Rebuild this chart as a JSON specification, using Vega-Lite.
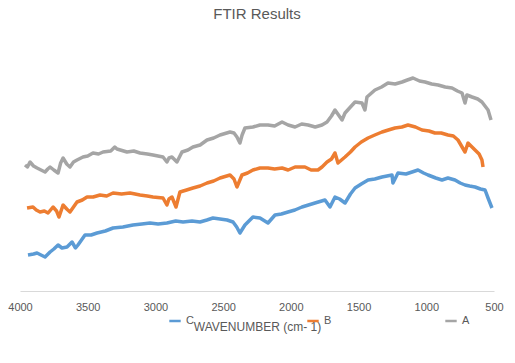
{
  "$schema": "https://vega.github.io/schema/vega-lite/v6.json",
  "autosize": {"type": "none"},
  "width": 474,
  "height": 251,
  "padding": {"left": 20, "top": 40, "right": 21, "bottom": 72},
  "background": "white",
  "config": {"view": {"stroke": null}, "font": "Liberation Sans"},
  "title": {"text": "FTIR Results", "fontSize": 15, "fontWeight": "normal", "color": "#595959", "offset": 18, "font": "Liberation Sans"},
  "data": {"values": [
    {"s":"A","wn":3963,"v":126},{"s":"A","wn":3945,"v":124},{"s":"A","wn":3926,"v":129},{"s":"A","wn":3900,"v":125},{"s":"A","wn":3874,"v":123},{"s":"A","wn":3845,"v":121},{"s":"A","wn":3815,"v":119},{"s":"A","wn":3795,"v":122},{"s":"A","wn":3778,"v":124},{"s":"A","wn":3750,"v":121},{"s":"A","wn":3719,"v":118},{"s":"A","wn":3700,"v":128},{"s":"A","wn":3682,"v":133},{"s":"A","wn":3655,"v":127},{"s":"A","wn":3631,"v":124},{"s":"A","wn":3605,"v":129},{"s":"A","wn":3579,"v":131},{"s":"A","wn":3535,"v":134},{"s":"A","wn":3500,"v":135},{"s":"A","wn":3461,"v":138},{"s":"A","wn":3420,"v":137},{"s":"A","wn":3387,"v":139},{"s":"A","wn":3330,"v":140},{"s":"A","wn":3300,"v":144},{"s":"A","wn":3284,"v":142},{"s":"A","wn":3210,"v":139},{"s":"A","wn":3160,"v":140},{"s":"A","wn":3114,"v":138},{"s":"A","wn":3060,"v":137},{"s":"A","wn":3018,"v":136},{"s":"A","wn":2944,"v":134},{"s":"A","wn":2915,"v":129},{"s":"A","wn":2900,"v":133},{"s":"A","wn":2878,"v":134},{"s":"A","wn":2841,"v":129},{"s":"A","wn":2804,"v":139},{"s":"A","wn":2760,"v":141},{"s":"A","wn":2723,"v":144},{"s":"A","wn":2670,"v":146},{"s":"A","wn":2619,"v":151},{"s":"A","wn":2570,"v":153},{"s":"A","wn":2523,"v":156},{"s":"A","wn":2449,"v":159},{"s":"A","wn":2420,"v":158},{"s":"A","wn":2398,"v":154},{"s":"A","wn":2376,"v":148},{"s":"A","wn":2360,"v":156},{"s":"A","wn":2339,"v":163},{"s":"A","wn":2280,"v":164},{"s":"A","wn":2228,"v":166},{"s":"A","wn":2169,"v":166},{"s":"A","wn":2120,"v":165},{"s":"A","wn":2065,"v":169},{"s":"A","wn":2020,"v":166},{"s":"A","wn":1969,"v":164},{"s":"A","wn":1920,"v":167},{"s":"A","wn":1873,"v":166},{"s":"A","wn":1820,"v":164},{"s":"A","wn":1770,"v":166},{"s":"A","wn":1733,"v":169},{"s":"A","wn":1700,"v":175},{"s":"A","wn":1674,"v":181},{"s":"A","wn":1622,"v":171},{"s":"A","wn":1600,"v":178},{"s":"A","wn":1560,"v":184},{"s":"A","wn":1526,"v":189},{"s":"A","wn":1475,"v":188},{"s":"A","wn":1453,"v":181},{"s":"A","wn":1438,"v":194},{"s":"A","wn":1379,"v":201},{"s":"A","wn":1330,"v":204},{"s":"A","wn":1283,"v":208},{"s":"A","wn":1230,"v":207},{"s":"A","wn":1179,"v":209},{"s":"A","wn":1140,"v":211},{"s":"A","wn":1098,"v":213},{"s":"A","wn":1050,"v":210},{"s":"A","wn":1009,"v":209},{"s":"A","wn":960,"v":207},{"s":"A","wn":913,"v":206},{"s":"A","wn":860,"v":204},{"s":"A","wn":810,"v":203},{"s":"A","wn":770,"v":200},{"s":"A","wn":736,"v":198},{"s":"A","wn":714,"v":188},{"s":"A","wn":700,"v":196},{"s":"A","wn":662,"v":194},{"s":"A","wn":620,"v":192},{"s":"A","wn":589,"v":189},{"s":"A","wn":544,"v":181},{"s":"A","wn":522,"v":171},
    {"s":"B","wn":3948,"v":83},{"s":"B","wn":3904,"v":84},{"s":"B","wn":3880,"v":81},{"s":"B","wn":3852,"v":79},{"s":"B","wn":3820,"v":80},{"s":"B","wn":3793,"v":78},{"s":"B","wn":3756,"v":84},{"s":"B","wn":3730,"v":80},{"s":"B","wn":3712,"v":74},{"s":"B","wn":3682,"v":86},{"s":"B","wn":3655,"v":82},{"s":"B","wn":3631,"v":79},{"s":"B","wn":3579,"v":89},{"s":"B","wn":3540,"v":91},{"s":"B","wn":3505,"v":94},{"s":"B","wn":3460,"v":94},{"s":"B","wn":3409,"v":96},{"s":"B","wn":3360,"v":95},{"s":"B","wn":3313,"v":98},{"s":"B","wn":3250,"v":97},{"s":"B","wn":3188,"v":98},{"s":"B","wn":3150,"v":97},{"s":"B","wn":3114,"v":96},{"s":"B","wn":3060,"v":95},{"s":"B","wn":3018,"v":94},{"s":"B","wn":2944,"v":93},{"s":"B","wn":2915,"v":86},{"s":"B","wn":2900,"v":92},{"s":"B","wn":2878,"v":94},{"s":"B","wn":2848,"v":84},{"s":"B","wn":2819,"v":99},{"s":"B","wn":2770,"v":101},{"s":"B","wn":2723,"v":103},{"s":"B","wn":2670,"v":105},{"s":"B","wn":2619,"v":108},{"s":"B","wn":2570,"v":110},{"s":"B","wn":2523,"v":113},{"s":"B","wn":2449,"v":116},{"s":"B","wn":2420,"v":112},{"s":"B","wn":2398,"v":104},{"s":"B","wn":2361,"v":116},{"s":"B","wn":2320,"v":118},{"s":"B","wn":2280,"v":121},{"s":"B","wn":2228,"v":123},{"s":"B","wn":2169,"v":123},{"s":"B","wn":2120,"v":122},{"s":"B","wn":2065,"v":123},{"s":"B","wn":2020,"v":121},{"s":"B","wn":1969,"v":124},{"s":"B","wn":1896,"v":124},{"s":"B","wn":1850,"v":121},{"s":"B","wn":1800,"v":121},{"s":"B","wn":1770,"v":124},{"s":"B","wn":1733,"v":129},{"s":"B","wn":1700,"v":132},{"s":"B","wn":1674,"v":138},{"s":"B","wn":1652,"v":128},{"s":"B","wn":1600,"v":134},{"s":"B","wn":1560,"v":139},{"s":"B","wn":1526,"v":144},{"s":"B","wn":1480,"v":149},{"s":"B","wn":1430,"v":153},{"s":"B","wn":1380,"v":156},{"s":"B","wn":1327,"v":159},{"s":"B","wn":1280,"v":161},{"s":"B","wn":1231,"v":163},{"s":"B","wn":1180,"v":164},{"s":"B","wn":1135,"v":166},{"s":"B","wn":1080,"v":164},{"s":"B","wn":1032,"v":161},{"s":"B","wn":980,"v":160},{"s":"B","wn":936,"v":158},{"s":"B","wn":890,"v":158},{"s":"B","wn":840,"v":156},{"s":"B","wn":800,"v":155},{"s":"B","wn":766,"v":151},{"s":"B","wn":714,"v":139},{"s":"B","wn":692,"v":148},{"s":"B","wn":640,"v":141},{"s":"B","wn":610,"v":137},{"s":"B","wn":589,"v":131},{"s":"B","wn":581,"v":124},
    {"s":"C","wn":3941,"v":36},{"s":"C","wn":3900,"v":37},{"s":"C","wn":3874,"v":38},{"s":"C","wn":3845,"v":36},{"s":"C","wn":3815,"v":34},{"s":"C","wn":3778,"v":39},{"s":"C","wn":3750,"v":42},{"s":"C","wn":3719,"v":46},{"s":"C","wn":3690,"v":43},{"s":"C","wn":3653,"v":44},{"s":"C","wn":3616,"v":49},{"s":"C","wn":3590,"v":43},{"s":"C","wn":3572,"v":46},{"s":"C","wn":3520,"v":56},{"s":"C","wn":3475,"v":56},{"s":"C","wn":3431,"v":58},{"s":"C","wn":3370,"v":60},{"s":"C","wn":3313,"v":63},{"s":"C","wn":3240,"v":64},{"s":"C","wn":3166,"v":66},{"s":"C","wn":3100,"v":67},{"s":"C","wn":3040,"v":68},{"s":"C","wn":2980,"v":67},{"s":"C","wn":2915,"v":68},{"s":"C","wn":2850,"v":70},{"s":"C","wn":2796,"v":69},{"s":"C","wn":2730,"v":70},{"s":"C","wn":2671,"v":69},{"s":"C","wn":2620,"v":71},{"s":"C","wn":2575,"v":73},{"s":"C","wn":2471,"v":71},{"s":"C","wn":2427,"v":69},{"s":"C","wn":2400,"v":64},{"s":"C","wn":2376,"v":58},{"s":"C","wn":2339,"v":66},{"s":"C","wn":2280,"v":74},{"s":"C","wn":2228,"v":73},{"s":"C","wn":2169,"v":68},{"s":"C","wn":2117,"v":76},{"s":"C","wn":2070,"v":77},{"s":"C","wn":2021,"v":79},{"s":"C","wn":1970,"v":81},{"s":"C","wn":1918,"v":84},{"s":"C","wn":1870,"v":86},{"s":"C","wn":1822,"v":88},{"s":"C","wn":1748,"v":91},{"s":"C","wn":1711,"v":84},{"s":"C","wn":1674,"v":94},{"s":"C","wn":1640,"v":92},{"s":"C","wn":1600,"v":88},{"s":"C","wn":1560,"v":97},{"s":"C","wn":1526,"v":103},{"s":"C","wn":1480,"v":107},{"s":"C","wn":1430,"v":111},{"s":"C","wn":1380,"v":112},{"s":"C","wn":1327,"v":114},{"s":"C","wn":1253,"v":116},{"s":"C","wn":1246,"v":108},{"s":"C","wn":1209,"v":118},{"s":"C","wn":1150,"v":117},{"s":"C","wn":1105,"v":119},{"s":"C","wn":1061,"v":121},{"s":"C","wn":1020,"v":118},{"s":"C","wn":987,"v":116},{"s":"C","wn":930,"v":113},{"s":"C","wn":884,"v":111},{"s":"C","wn":840,"v":113},{"s":"C","wn":788,"v":111},{"s":"C","wn":750,"v":108},{"s":"C","wn":714,"v":106},{"s":"C","wn":680,"v":105},{"s":"C","wn":640,"v":104},{"s":"C","wn":600,"v":102},{"s":"C","wn":566,"v":101},{"s":"C","wn":544,"v":93},{"s":"C","wn":515,"v":83}
  ]},
  "mark": {"type": "line", "strokeWidth": 3.5, "strokeJoin": "round"},
  "encoding": {
    "x": {"field": "wn", "type": "quantitative", "title": "WAVENUMBER (cm- 1)",
      "scale": {"domain": [4000, 500], "nice": false, "zero": false},
      "axis": {"values": [4000, 3500, 3000, 2500, 2000, 1500, 1000, 500], "format": "d", "grid": false, "ticks": false,
        "domainColor": "#d9d9d9", "labelColor": "#595959", "labelFontSize": 11, "labelPadding": 10,
        "labelFlush": false, "titleColor": "#595959", "titleFontSize": 12, "titleFontWeight": "normal", "titlePadding": 9}},
    "y": {"field": "v", "type": "quantitative", "scale": {"domain": [0, 251], "nice": false}, "axis": null},
    "color": {"field": "s", "type": "nominal", "sort": ["C", "B", "A"],
      "scale": {"domain": ["C", "B", "A"], "range": ["#5b9bd5", "#ed7d31", "#a5a5a5"]},
      "legend": {"title": null, "orient": "none", "legendX": 148, "legendY": 274, "direction": "horizontal",
        "symbolType": "stroke", "symbolStrokeWidth": 2.5, "symbolSize": 130, "labelFontSize": 11, "labelColor": "#595959",
        "labelBaseline": "middle", "columnPadding": 108}},
    "order": {"field": "wn", "type": "quantitative"}
  }
}
